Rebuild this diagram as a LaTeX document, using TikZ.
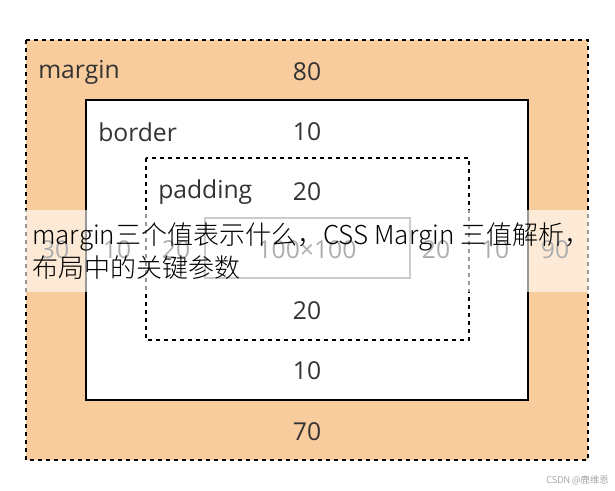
\documentclass[tikz,border=0pt]{standalone}
\usepackage{fontspec}
\setmainfont{Open Sans}
\newfontfamily\cjk{Noto Sans CJK SC Light}
\definecolor{marg}{HTML}{F9CC9D}
\definecolor{txt}{HTML}{333333}
\begin{document}
\begin{tikzpicture}[x=0.75pt,y=-0.75pt,
  lab/.style={font=\fontsize{18.5}{20}\selectfont,text=txt,inner sep=0pt},
  llab/.style={lab,anchor=west}]
\useasboundingbox (0,0) rectangle (615,490);
\fill[white] (0,0) rectangle (615,490);
\draw[dashed,thick,fill=marg] (26,40) rectangle (588,460);
\draw[thick,fill=white] (86,100) rectangle (528,400);
\draw[dashed,thick] (146,158) rectangle (469,340);
\draw[gray,thick] (205,218) rectangle (410,278);
\node[llab] (m) at (38,72) {margin};
\node[lab] (m80) at (307,72) {80};
\node[llab] (b) at (98,132) {border};
\node[lab] (b10) at (307,132) {10};
\node[llab] (p) at (158,192) {padding};
\node[lab] (p20) at (307,192) {20};
\node[lab] (l30) at (55,250) {30};
\node[lab] (l10) at (117,250) {10};
\node[lab] (l20) at (176,250) {20};
\node[lab] (c) at (307,250) {100×100};
\node[lab] (r20) at (436,250) {20};
\node[lab] (r10) at (495,250) {10};
\node[lab] (r90) at (555,250) {90};
\node[lab] (pb) at (307,311) {20};
\node[lab] (bb) at (307,371) {10};
\node[lab] (mb) at (307,432) {70};
\fill[white,opacity=0.6] (0,210) rectangle (615,292);
\node[anchor=west,inner sep=0pt,font=\cjk\fontsize{19.5}{25}\selectfont,align=left] (ov) at (32,251) {margin三个值表示什么，CSS Margin 三值解析，\\布局中的关键参数};
\node[anchor=east,inner sep=0pt,text=gray,font=\cjk\fontsize{7}{8}\selectfont] (wm) at (609,480) {CSDN @鹿维恩};
\end{tikzpicture}
\end{document}
